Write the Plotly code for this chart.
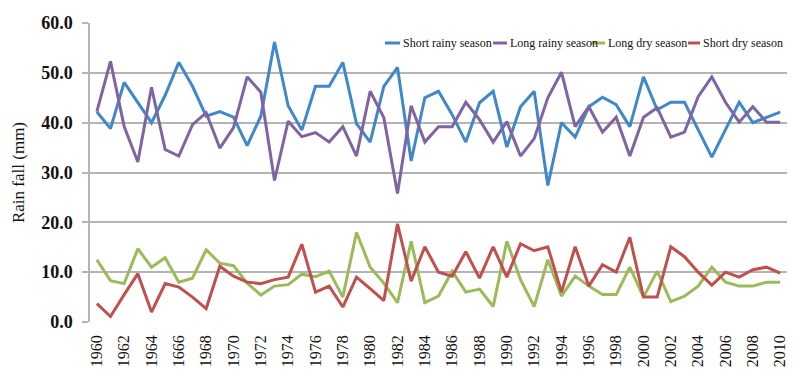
import plotly.graph_objects as go

years = list(range(1960, 2011))

short_rainy = [42.2, 38.8, 48.1, 44.0, 40.0, 45.5, 52.1, 47.3, 41.3, 42.2,
               41.1, 35.4, 41.3, 56.2, 43.4, 38.5, 47.3, 47.3, 52.1, 39.8,
               36.1, 47.3, 51.1, 32.3, 45.0, 46.3, 41.6, 36.1, 44.0, 46.3,
               35.1, 43.2, 46.3, 27.4, 40.0, 37.1, 43.2, 45.1, 43.6, 39.2,
               49.2, 42.6, 44.1, 44.1, 38.6, 33.1, 38.6, 44.1, 40.0, 41.0,
               42.1]
long_rainy = [42.2, 52.3, 39.2, 32.1, 47.1, 34.6, 33.3, 39.6, 42.0, 34.9,
              39.0, 49.2, 46.1, 28.4, 40.3, 37.2, 38.0, 36.1, 39.2, 33.3,
              46.3, 41.0, 25.8, 43.4, 36.1, 39.2, 39.2, 44.1, 40.6, 36.1,
              40.2, 33.3, 36.8, 45.0, 50.1, 39.2, 43.2, 38.1, 41.1, 33.3,
              41.1, 43.0, 37.1, 38.1, 45.2, 49.2, 44.1, 40.1, 43.2, 40.1,
              40.1]
long_dry = [12.5, 8.3, 7.7, 14.7, 11.0, 12.9, 8.0, 8.8, 14.5, 11.8,
            11.3, 7.8, 5.4, 7.2, 7.5, 9.6, 9.1, 10.2, 5.0, 18.0,
            11.0, 7.8, 3.9, 16.2, 3.9, 5.2, 10.2, 6.0, 6.6, 3.1,
            16.2, 8.5, 3.1, 12.5, 5.2, 9.2, 7.2, 5.5, 5.5, 11.0,
            5.0, 10.2, 4.1, 5.2, 7.2, 11.0, 8.0, 7.2, 7.2, 8.0,
            8.0]
short_dry = [3.7, 1.1, 5.5, 9.7, 2.0, 7.7, 7.0, 5.0, 2.7, 11.2,
             9.2, 8.0, 7.7, 8.5, 9.0, 15.6, 6.0, 7.2, 3.0, 9.0,
             6.7, 4.3, 19.7, 8.2, 15.1, 10.0, 9.2, 14.1, 8.8, 15.1,
             9.0, 15.7, 14.3, 15.1, 6.0, 15.1, 7.2, 11.5, 10.0, 17.0,
             5.0, 5.0, 15.1, 13.1, 10.0, 7.4, 10.0, 9.0, 10.5, 11.0,
             9.8]

tick_years = list(range(1960, 2011, 2))
tick_labels = ["1960", "1962", "1964", "1666", "1968", "1970", "1972", "1974",
               "1976", "1978", "1980", "1982", "1984", "1986", "1988", "1990",
               "1992", "1994", "1996", "1998", "2000", "2002", "2004", "2006",
               "2008", "2010"]

series_names = ["Short rainy season", "Long rainy season", "Long dry season", "Short dry season"]
series_values = [short_rainy, long_rainy, long_dry, short_dry]
colors = ["#4088C9", "#8064A2", "#9BBB59", "#C0504D"]

# page has an 8px body margin; figure sized to fit inside the window
OFF = 8
W, H = 795 - 2 * OFF, 376 - 2 * OFF
PLOT_L, PLOT_R, PLOT_T, PLOT_B = 90, 787, 23, 322   # page pixel coords
ML = PLOT_L - OFF
MR = W - (PLOT_R - OFF)
MT = PLOT_T - OFF
MB = H - (PLOT_B - OFF)
PW, PH = PLOT_R - PLOT_L, PLOT_B - PLOT_T

fig = go.Figure()
for name, vals, col in zip(series_names, series_values, colors):
    fig.add_trace(go.Scatter(x=years, y=vals, mode="lines", name=name,
                             line=dict(color=col, width=3), showlegend=False,
                             cliponaxis=False))

def px_x(p):
    return (p - PLOT_L) / PW

def px_y(p):
    return (PLOT_B - p) / PH

legend_samples = [(385, 400), (493, 507), (591, 605), (688, 700)]
leg_y = 43
for (x0, x1), name, col in zip(legend_samples, series_names, colors):
    fig.add_shape(type="line", xref="paper", yref="paper",
                  x0=px_x(x0), x1=px_x(x1), y0=px_y(leg_y), y1=px_y(leg_y),
                  line=dict(color=col, width=3))
    fig.add_annotation(xref="paper", yref="paper", x=px_x(x1 + 1), y=px_y(leg_y),
                       text=name, showarrow=False, xanchor="left", yanchor="middle",
                       font=dict(family="Liberation Serif", size=12, color="#111"))

fig.update_layout(
    width=W, height=H,
    margin=dict(l=ML, r=MR, t=MT, b=MB, autoexpand=False),
    paper_bgcolor="white", plot_bgcolor="white",
    font=dict(family="Liberation Serif", color="#111"),
    showlegend=False,
)
fig.update_xaxes(
    range=[1959.5, 2010.5], automargin=False,
    tickmode="array", tickvals=tick_years, ticktext=tick_labels,
    tickangle=-90, tickfont=dict(family="Liberation Serif", size=16, color="#111"),
    showgrid=False, zeroline=False, showline=False, ticks="",
    ticklabelstandoff=9, ticklabeloverflow="allow",
)
fig.update_yaxes(
    range=[0, 60], dtick=10, tickformat=".1f", automargin=False,
    tickfont=dict(family="Liberation Serif", size=18, color="#111", weight="bold"),
    showgrid=True, gridcolor="#b4b4b4", gridwidth=1.5,
    zeroline=False, showline=True, linecolor="#b4b4b4", linewidth=1.5,
    ticks="outside", ticklen=6, tickcolor="#b4b4b4", tickwidth=1.5,
    ticklabelstandoff=6,
    title=dict(text="Rain fall (mm)", font=dict(family="Liberation Serif", size=17, color="#111"),
               standoff=12),
)

fig.write_html("out.html")
